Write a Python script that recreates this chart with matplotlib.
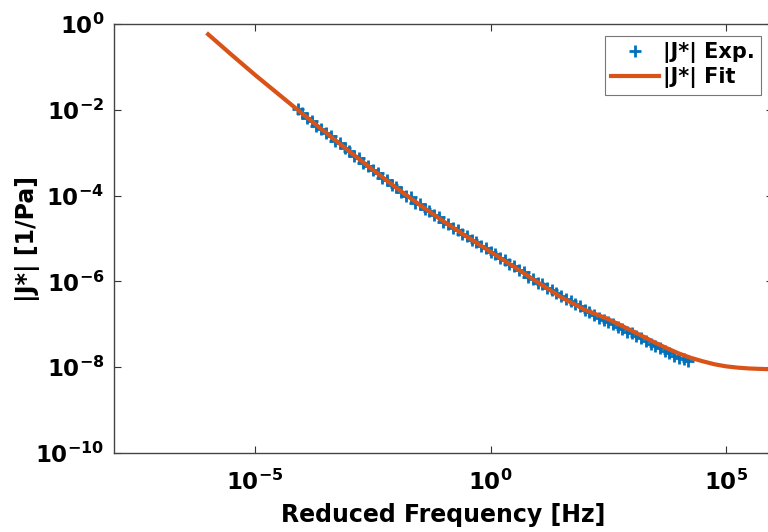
import numpy as np
import matplotlib
matplotlib.use('Agg')
import matplotlib.pyplot as plt
from matplotlib.ticker import FixedLocator, FuncFormatter, NullLocator

plt.rcParams['font.family'] = ['DejaVu Sans']
plt.rcParams['font.weight'] = 'bold'
plt.rcParams['mathtext.fontset'] = 'custom'
plt.rcParams['mathtext.rm'] = 'DejaVu Sans:bold'
plt.rcParams['mathtext.bf'] = 'DejaVu Sans:bold'

# fitted curve (log10 of reduced frequency, log10 of |J*|)
fit_logf = [-6.0, -5.5, -5.0, -4.5, -4.0, -3.5, -3.0, -2.5, -2.0, -1.5, -1.0, -0.5,
            0.0, 0.5, 1.0, 1.5, 2.0, 2.5, 3.0, 3.5, 3.75, 4.0, 4.25, 4.5, 4.75,
            5.0, 5.25, 5.5, 5.75, 6.0]
fit_logj = [-0.24, -0.72, -1.19, -1.64, -2.09, -2.53, -2.97, -3.40, -3.82, -4.22, -4.60, -4.96,
            -5.31, -5.66, -6.02, -6.37, -6.66, -6.88, -7.15, -7.43, -7.56, -7.68, -7.78, -7.86, -7.93,
            -7.98, -8.01, -8.03, -8.04, -8.05]

# experimental master curve points
exp_logf = [-4.1, -4.0, -3.9, -3.8, -3.7, -3.6, -3.5, -3.4, -3.3, -3.2, -3.1, -3.0,
            -2.9, -2.8, -2.7, -2.6, -2.5, -2.4, -2.3, -2.2, -2.1, -2.0,
            -1.9, -1.8, -1.7, -1.6, -1.5, -1.4, -1.3, -1.2, -1.1, -1.0,
            -0.9, -0.8, -0.7, -0.6, -0.5, -0.4, -0.3, -0.2, -0.1, 0.0,
            0.1, 0.2, 0.3, 0.4, 0.5, 0.6, 0.7, 0.8, 0.9, 1.0,
            1.1, 1.2, 1.3, 1.4, 1.5, 1.6, 1.7, 1.8, 1.9, 2.0,
            2.1, 2.2, 2.3, 2.4, 2.5, 2.6, 2.7, 2.8, 2.9, 3.0,
            3.1, 3.2, 3.3, 3.4, 3.5, 3.6, 3.7, 3.8, 3.9, 4.0, 4.1, 4.2]
exp_logj = [-1.99, -2.08, -2.19, -2.26, -2.37, -2.44, -2.54, -2.61, -2.72, -2.78, -2.89, -2.96,
            -3.07, -3.13, -3.24, -3.30, -3.41, -3.47, -3.58, -3.64, -3.75, -3.81,
            -3.92, -4.00, -4.03, -4.18, -4.20, -4.31, -4.36, -4.46, -4.51, -4.61,
            -4.66, -4.75, -4.81, -4.90, -4.95, -5.04, -5.09, -5.18, -5.23, -5.32,
            -5.37, -5.46, -5.51, -5.60, -5.65, -5.74, -5.79, -5.89, -5.94, -6.03,
            -6.07, -6.15, -6.20, -6.28, -6.34, -6.41, -6.45, -6.52, -6.57, -6.66,
            -6.72, -6.79, -6.85, -6.90, -6.95, -7.00, -7.06, -7.10, -7.17, -7.21,
            -7.27, -7.33, -7.39, -7.45, -7.50, -7.56, -7.62, -7.67, -7.73, -7.78, -7.82, -7.86]

fig = plt.figure(figsize=(7.68, 5.32), dpi=100)
ax = fig.add_axes([114 / 768, 79 / 532, 659 / 768, 429 / 532])

ax.loglog(10.0 ** np.array(exp_logf), 10.0 ** np.array(exp_logj), '+', color='#0072BD',
          markersize=8, markeredgewidth=2.0, label='|J*| Exp.', zorder=2)
ax.loglog(10.0 ** np.array(fit_logf), 10.0 ** np.array(fit_logj), '-', color='#D95319',
          linewidth=3, label='|J*| Fit', zorder=3)

ax.set_xlim(1e-8, 1e6)
ax.set_ylim(1e-10, 1e0)

ax.xaxis.set_major_locator(FixedLocator([1e-5, 1e0, 1e5]))
ax.yaxis.set_major_locator(FixedLocator([1e-10, 1e-8, 1e-6, 1e-4, 1e-2, 1e0]))
ax.xaxis.set_minor_locator(NullLocator())
ax.yaxis.set_minor_locator(NullLocator())
fmt = FuncFormatter(lambda v, p: r'$\mathbf{10^{%d}}$' % int(round(np.log10(v))))
ax.xaxis.set_major_formatter(fmt)
ax.yaxis.set_major_formatter(fmt)
ax.tick_params(axis='both', which='major', direction='in', length=5, width=0.8,
               labelsize=16.5, top=True, right=True, color='#333333')
ax.tick_params(axis='x', pad=12)
ax.tick_params(axis='y', pad=7)

for s in ax.spines.values():
    s.set_color('#444444')
    s.set_linewidth(1.0)

ax.set_xlabel('Reduced Frequency [Hz]', fontsize=17, fontweight='bold', labelpad=6)
ax.set_ylabel('|J*| [1/Pa]', fontsize=17, fontweight='bold')
ax.yaxis.set_label_coords(-0.112, 0.5)

leg = ax.legend(loc='upper right', bbox_to_anchor=(761 / 768, 1 - 36 / 532),
                bbox_transform=fig.transFigure,
                fontsize=15, frameon=True, fancybox=False, handlelength=2.3,
                handletextpad=0.2, borderpad=0.3, labelspacing=0.2, borderaxespad=0)
leg.get_frame().set_edgecolor('#555555')
leg.get_frame().set_linewidth(0.8)

fig.savefig('out.png', dpi=100)
